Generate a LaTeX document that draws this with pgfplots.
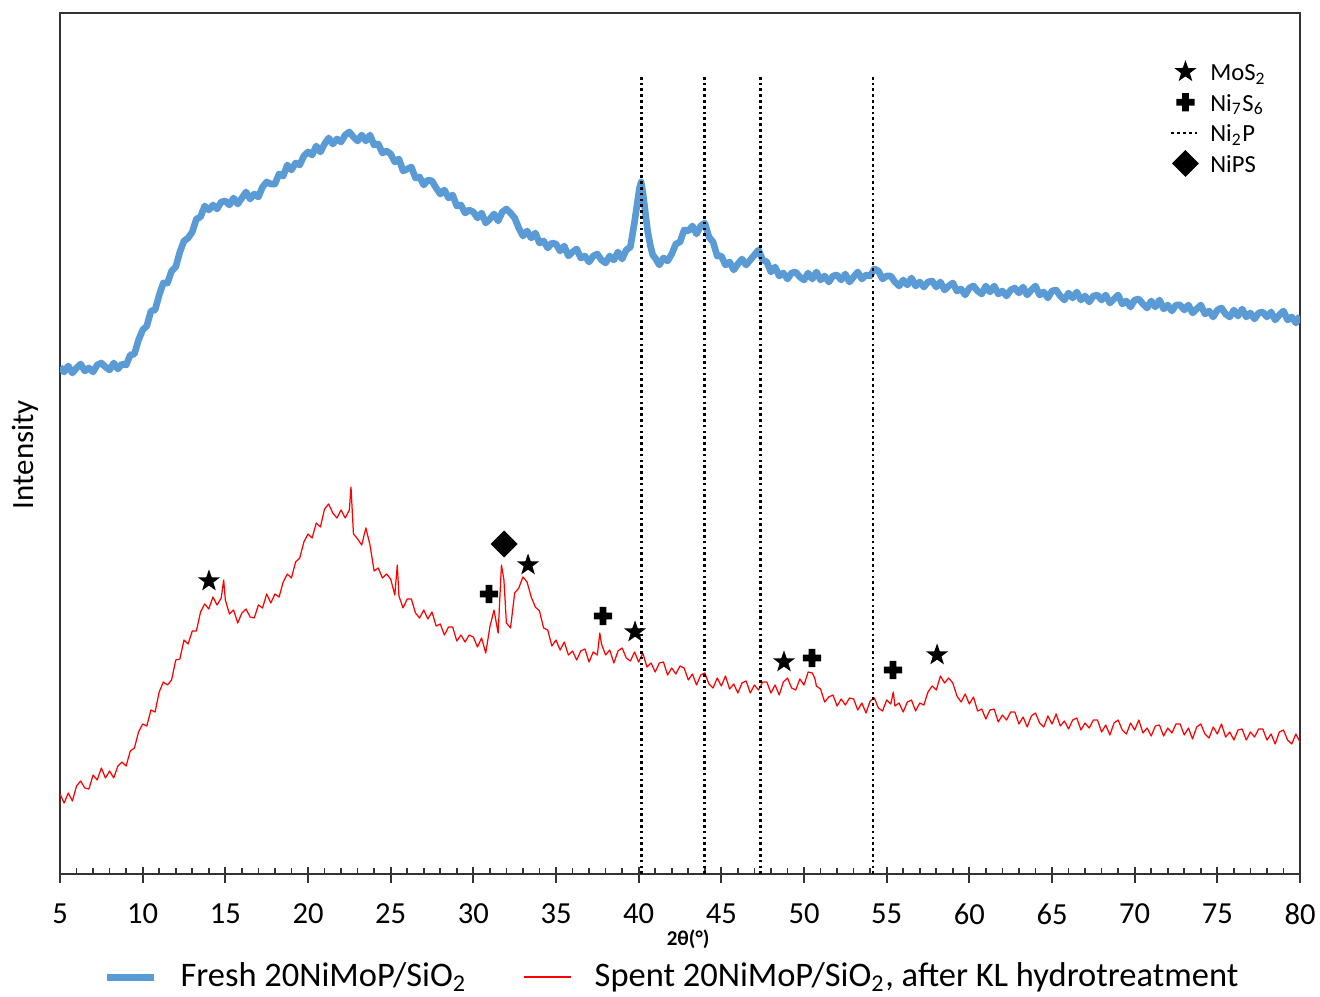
\documentclass[border=0pt]{standalone}
\usepackage{fontspec}
\setmainfont{Carlito}
\usepackage{pgfplots}
\usepackage{pgfplotstable}
\pgfplotsset{compat=1.18}

\definecolor{fresh}{RGB}{91,155,213}
\definecolor{spent}{RGB}{255,0,0}

% filled five-pointed star
\pgfdeclareplotmark{fstar}{%
  \pgfpathmoveto{\pgfpointpolar{90}{\pgfplotmarksize}}%
  \pgfpathlineto{\pgfpointpolar{126}{0.4\pgfplotmarksize}}%
  \pgfpathlineto{\pgfpointpolar{162}{\pgfplotmarksize}}%
  \pgfpathlineto{\pgfpointpolar{198}{0.4\pgfplotmarksize}}%
  \pgfpathlineto{\pgfpointpolar{234}{\pgfplotmarksize}}%
  \pgfpathlineto{\pgfpointpolar{270}{0.4\pgfplotmarksize}}%
  \pgfpathlineto{\pgfpointpolar{306}{\pgfplotmarksize}}%
  \pgfpathlineto{\pgfpointpolar{342}{0.4\pgfplotmarksize}}%
  \pgfpathlineto{\pgfpointpolar{18}{\pgfplotmarksize}}%
  \pgfpathlineto{\pgfpointpolar{54}{0.4\pgfplotmarksize}}%
  \pgfpathclose\pgfusepathqfill}
% filled thick plus
\pgfdeclareplotmark{fplus}{%
  \pgfpathmoveto{\pgfpoint{-0.37\pgfplotmarksize}{\pgfplotmarksize}}%
  \pgfpathlineto{\pgfpoint{0.37\pgfplotmarksize}{\pgfplotmarksize}}%
  \pgfpathlineto{\pgfpoint{0.37\pgfplotmarksize}{0.37\pgfplotmarksize}}%
  \pgfpathlineto{\pgfpoint{\pgfplotmarksize}{0.37\pgfplotmarksize}}%
  \pgfpathlineto{\pgfpoint{\pgfplotmarksize}{-0.37\pgfplotmarksize}}%
  \pgfpathlineto{\pgfpoint{0.37\pgfplotmarksize}{-0.37\pgfplotmarksize}}%
  \pgfpathlineto{\pgfpoint{0.37\pgfplotmarksize}{-\pgfplotmarksize}}%
  \pgfpathlineto{\pgfpoint{-0.37\pgfplotmarksize}{-\pgfplotmarksize}}%
  \pgfpathlineto{\pgfpoint{-0.37\pgfplotmarksize}{-0.37\pgfplotmarksize}}%
  \pgfpathlineto{\pgfpoint{-\pgfplotmarksize}{-0.37\pgfplotmarksize}}%
  \pgfpathlineto{\pgfpoint{-\pgfplotmarksize}{0.37\pgfplotmarksize}}%
  \pgfpathlineto{\pgfpoint{-0.37\pgfplotmarksize}{0.37\pgfplotmarksize}}%
  \pgfpathclose\pgfusepathqfill}

\pgfplotsset{
  markleg/.style={legend image code/.code={\draw[##1] plot coordinates {(0mm,0mm)};}},
  dotleg/.style={legend image code/.code={\draw[##1] (-1.4mm,0mm) -- (1.4mm,0mm);}},
  lineleg/.style={legend image code/.code={\draw[##1] (0mm,0mm) -- (4.7mm,0mm);}},
  ni2p/.style={black, line width=0.75pt, dash pattern=on 0.75pt off 0.9pt},
}

\pgfplotstableread{
x y
5.00 633
5.25 628
5.50 634
5.75 627
6.00 632
6.25 636
6.50 629
6.75 632
7.00 628
7.25 635
7.50 637
7.75 633
8.00 630
8.25 637
8.50 631
8.75 636
9.00 635
9.25 645
9.50 646
9.75 660
10.00 670
10.25 674
10.50 689
10.75 690
11.00 705
11.25 717
11.50 717
11.75 729
12.00 733
12.25 748
12.50 759
12.75 762
13.00 768
13.25 781
13.50 783
13.75 794
14.00 790
14.25 795
14.50 791
14.75 798
15.00 799
15.25 795
15.50 802
15.75 796
16.00 802
16.25 808
16.50 801
16.75 806
17.00 803
17.25 813
17.50 818
17.75 816
18.00 816
18.25 826
18.50 824
18.75 835
19.00 830
19.25 837
19.50 835
19.75 844
20.00 848
20.25 845
20.50 854
20.75 848
21.00 856
21.25 862
21.50 856
21.75 861
22.00 858
22.25 865
22.50 868
22.75 863
23.00 859
23.25 865
23.50 859
23.75 865
24.00 855
24.25 856
24.50 847
24.75 849
25.00 846
25.25 838
25.50 841
25.75 829
26.00 831
26.25 833
26.50 822
26.75 823
27.00 815
27.25 820
27.50 819
27.75 812
28.00 806
28.25 810
28.50 802
28.75 805
29.00 794
29.25 795
29.50 787
29.75 790
30.00 788
30.25 782
30.50 787
30.75 777
31.00 781
31.25 786
31.50 779
31.75 788
32.00 791
32.25 787
32.50 782
32.75 772
33.00 764
33.25 769
33.50 762
33.75 767
34.00 757
34.25 759
34.50 752
34.75 757
35.00 756
35.25 749
35.50 754
35.75 744
36.00 748
36.25 751
36.50 742
36.75 744
37.00 738
37.25 744
37.50 746
37.75 740
38.00 737
38.25 744
38.50 740
38.75 748
39.00 741
39.25 750
39.50 753
39.75 778
39.90 795
40.05 812
40.15 818
40.25 808
40.40 788
40.55 768
40.70 755
40.85 745
41.00 742
41.25 735
41.50 742
41.75 739
42.00 746
42.25 756
42.50 758
42.75 770
43.00 769
43.25 774
43.50 766
43.75 774
44.00 777
44.25 763
44.50 758
44.75 744
45.00 744
45.25 735
45.50 738
45.75 730
46.00 736
46.25 741
46.50 735
46.75 740
47.00 745
47.25 750
47.50 740
47.75 738
48.00 728
48.25 733
48.50 724
48.75 727
49.00 721
49.25 727
49.50 728
49.75 723
50.00 720
50.25 727
50.50 721
50.75 728
51.00 720
51.25 724
51.50 718
51.75 724
52.00 725
52.25 720
52.50 726
52.75 718
53.00 723
53.25 728
53.50 721
53.75 725
54.00 724
54.25 731
54.50 729
54.75 721
55.00 724
55.25 724
55.50 718
55.75 714
56.00 720
56.25 715
56.50 722
56.75 714
57.00 718
57.25 713
57.50 718
57.75 719
58.00 713
58.25 718
58.50 710
58.75 714
59.00 717
59.25 709
59.50 711
59.75 705
60.00 712
60.25 714
60.50 709
60.75 706
61.00 714
61.25 708
61.50 714
61.75 706
62.00 709
62.25 704
62.50 710
62.75 712
63.00 707
63.25 713
63.50 705
63.75 710
64.00 714
64.25 705
64.50 708
64.75 702
65.00 709
65.25 710
65.50 704
65.75 700
66.00 707
66.25 702
66.50 708
66.75 700
67.00 704
67.25 698
67.50 704
67.75 705
68.00 700
68.25 705
68.50 697
68.75 701
69.00 705
69.25 696
69.50 699
69.75 693
70.00 700
70.25 701
70.50 696
70.75 692
71.00 699
71.25 693
71.50 700
71.75 691
72.00 695
72.25 689
72.50 695
72.75 695
73.00 690
73.25 695
73.50 687
73.75 691
74.00 695
74.25 686
74.50 689
74.75 683
75.00 690
75.25 692
75.50 686
75.75 683
76.00 690
76.25 684
76.50 691
76.75 683
77.00 687
77.25 681
77.50 687
77.75 688
78.00 683
78.25 688
78.50 680
78.75 685
79.00 689
79.25 680
79.50 683
79.75 677
80.00 684
}\freshdata

\pgfplotstableread{
x y
5.00 206
5.25 197
5.50 207
5.75 199
6.00 214
6.25 219
6.50 212
6.75 211
7.00 225
7.25 220
7.50 232
7.75 222
8.00 229
8.25 222
8.50 234
8.75 238
9.00 234
9.25 249
9.50 252
9.75 268
10.00 276
10.25 274
10.50 290
10.75 288
11.00 308
11.25 318
11.50 315
11.75 320
12.00 340
12.25 341
12.50 360
12.75 356
13.00 369
13.25 369
13.50 388
13.75 396
14.00 391
14.25 403
14.50 395
14.75 402
14.90 420
15.00 400
15.25 386
15.50 390
15.75 377
16.00 387
16.25 391
16.50 383
16.75 382
17.00 395
17.25 392
17.50 406
17.75 397
18.00 406
18.25 403
18.50 418
18.75 426
19.00 422
19.25 438
19.50 442
19.75 458
20.00 466
20.25 462
20.50 477
20.75 473
21.00 491
21.25 496
21.50 487
21.75 482
22.00 490
22.25 482
22.50 490
22.60 513
22.75 466
23.00 461
23.25 455
23.50 472
23.75 455
24.00 429
24.25 432
24.50 422
24.75 426
25.00 421
25.25 405
25.40 435
25.50 404
25.75 392
26.00 401
26.25 401
26.50 387
26.75 382
27.00 390
27.25 381
27.50 388
27.75 374
28.00 376
28.25 365
28.50 373
28.75 373
29.00 359
29.25 365
29.50 358
29.75 365
30.00 363
30.25 353
30.50 362
30.75 347
31.00 373
31.25 390
31.50 367
31.70 435
31.85 420
32.00 377
32.25 372
32.50 407
32.75 412
33.00 423
33.25 418
33.50 403
33.75 393
34.00 389
34.25 372
34.50 370
34.75 354
35.00 360
35.25 350
35.50 358
35.75 345
36.00 349
36.25 340
36.50 349
36.75 351
37.00 338
37.25 348
37.50 345
37.65 367
37.75 356
38.00 345
38.25 350
38.50 337
38.75 349
39.00 352
39.25 342
39.50 339
39.75 348
40.00 338
40.25 347
40.50 333
40.75 337
41.00 328
41.25 337
41.50 338
41.75 325
42.00 332
42.25 326
42.50 334
42.75 332
43.00 320
43.25 326
43.50 315
43.75 325
44.00 327
44.25 316
44.50 312
44.75 322
45.00 314
45.25 324
45.50 311
45.75 316
46.00 307
46.25 317
46.50 319
46.75 307
47.00 315
47.25 310
47.50 318
47.75 318
48.00 307
48.25 315
48.50 305
48.75 318
49.00 322
49.25 312
49.50 310
49.75 321
50.00 315
50.25 328
50.50 327
50.65 322
50.75 314
51.00 311
51.25 298
51.50 303
51.75 305
52.00 294
52.25 301
52.50 295
52.75 302
53.00 301
53.25 290
53.50 297
53.75 287
54.00 299
54.25 302
54.50 292
54.75 289
55.00 300
55.25 296
55.40 308
55.50 294
55.75 297
56.00 288
56.25 298
56.50 300
56.75 289
57.00 297
57.25 295
57.50 308
57.75 314
58.00 310
58.25 324
58.50 317
58.75 322
59.00 317
59.25 304
59.50 298
59.75 306
60.00 296
60.25 303
60.50 289
60.75 291
61.00 281
61.25 290
61.50 291
61.75 278
62.00 285
62.25 280
62.50 288
62.75 288
63.00 276
63.25 283
63.50 273
63.75 284
64.00 287
64.25 277
64.50 273
64.75 284
65.00 276
65.25 286
65.50 274
65.75 279
66.00 271
66.25 280
66.50 282
66.75 270
67.00 277
67.25 272
67.50 280
67.75 280
68.00 268
68.25 275
68.50 265
68.75 277
69.00 280
69.25 270
69.50 266
69.75 277
70.00 270
70.25 280
70.50 267
70.75 272
71.00 264
71.25 274
71.50 275
71.75 264
72.00 272
72.25 267
72.50 276
72.75 276
73.00 265
73.25 272
73.50 261
73.75 273
74.00 276
74.25 266
74.50 262
74.75 273
75.00 266
75.25 276
75.50 263
75.75 268
76.00 260
76.25 270
76.50 271
76.75 260
77.00 268
77.25 263
77.50 271
77.75 271
78.00 260
78.25 266
78.50 256
78.75 268
79.00 270
79.25 260
79.50 256
79.75 266
80.00 258
}\spentdata

\begin{document}
\begin{tikzpicture}
\path[use as bounding box] (-6mm,-12.2mm) rectangle (126mm,87.4mm);
\pgfplotsset{xrd/.style={
  width=124mm, height=86.1mm, scale only axis,
  xmin=5, xmax=80, ymin=126, ymax=987,
}}
\begin{axis}[
  xrd,
  axis line style={line width=0.6pt, black!80},
  xtick={5,10,...,80},
  minor x tick num=4,
  xtick pos=lower,
  ytick=\empty,
  tick align=inside,
  major tick length=1.6mm,
  minor tick length=0.6mm,
  major x tick style={yshift=-0.9mm, line width=0.6pt, black!80},
  minor x tick style={line width=0.5pt, black!80},
  /pgf/number format/assume math mode=true,
  xticklabel style={font=\fontsize{8.7}{10}\selectfont, yshift=-1.7mm},
  xlabel={\textbf{2θ(°)}},
  xlabel style={at={(axis description cs:0.5065,-0.076)}, anchor=center, font=\fontsize{6}{7}\selectfont},
  ylabel={Intensity},
  ylabel style={at={(axis description cs:-0.0282,0.487)}, anchor=center, font=\fontsize{8.8}{10}\selectfont},
  legend columns=2,
  legend cell align=left,
  legend style={at={(0.0263,-0.12)}, anchor=west, draw=none, fill=none,
    font=\fontsize{9.8}{11}\selectfont,
    /tikz/every odd column/.append style={column sep=1.6mm},
    /tikz/every even column/.append style={column sep=4.9mm}},
]
\addplot[fresh, line width=1.9pt, line join=round, lineleg] table {\freshdata};
\addlegendentry{Fresh 20NiMoP/SiO\textsubscript{2}}
\addplot[spent, line width=0.35pt, line join=round, lineleg,
  legend image post style={draw=spent, line width=0.5pt}] table {\spentdata};
\addlegendentry{Spent 20NiMoP/SiO\textsubscript{2}, after KL hydrotreatment}
\end{axis}

\begin{axis}[
  xrd,
  hide axis,
  clip=false,
  legend cell align=left,
  legend style={at={(0.8862,0.964)}, anchor=north west, draw=none, fill=none,
    font=\fontsize{7}{8}\selectfont, row sep=-0.95mm,
    nodes={inner sep=1pt, text height=0.72em, text depth=0.22em},
    /tikz/every odd column/.append style={column sep=0.6mm}},
]
\addplot[only marks, black, mark=fstar, mark size=3.3pt, markleg]
  coordinates {(14.01,419) (33.31,435) (39.78,368) (48.79,338) (58.05,345)};
\addlegendentry{MoS\textsubscript{2}}
\addplot[only marks, black, mark=fplus, mark size=2.6pt, markleg]
  coordinates {(30.95,406) (37.84,384) (50.48,342) (55.38,330)};
\addlegendentry{Ni\textsubscript{7}S\textsubscript{6}}
\addplot[ni2p, dotleg] coordinates {(40.17,126) (40.17,923)};
\addlegendentry{Ni\textsubscript{2}P}
\addplot[ni2p, forget plot] coordinates {(44.0,126) (44.0,923)};
\addplot[ni2p, forget plot] coordinates {(47.37,126) (47.37,923)};
\addplot[ni2p, forget plot] coordinates {(54.17,126) (54.17,923)};
\addplot[only marks, black, mark=square*, mark size=2.5pt, mark options={rotate=45}, markleg]
  coordinates {(31.86,456)};
\addlegendentry{NiPS}
\end{axis}
\end{tikzpicture}
\end{document}
